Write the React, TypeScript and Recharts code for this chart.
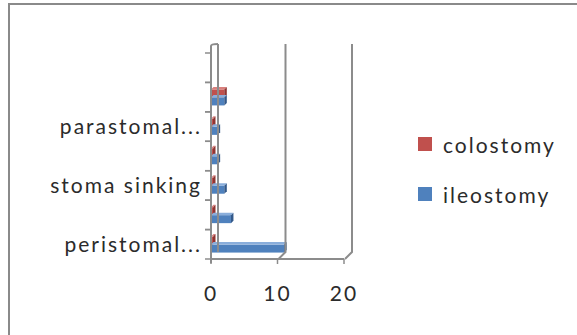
import { BarChart, Bar, XAxis, YAxis, ReferenceLine, Legend } from 'recharts'

// bottom-to-top, as in the source sheet; only every other label is printed
const categories = ['peristomal...', 'stoma retraction', 'stoma sinking', 'stoma prolapse', 'parastomal...', 'stoma stenosis', '']
const colostomy = [0, 0, 0, 0, 0, 2, null]
const ileostomy = [11, 3, 2, 1, 1, 2, null]
const xTicks = [0, 10, 20]

const data = categories.map((name, i) => ({ name, colostomy: colostomy[i], ileostomy: ileostomy[i] }))

const FONT = 'Lato, "Open Sans", sans-serif'
const FS = 21
const LS = 2
const TEXT = '#2b2b2b'
const GRID = '#8c8c8c'
const RED = '#c0504d'
const BLUE = '#4f81bd'

function CategoryTick(props: any) {
  const { x, y, payload } = props
  const half = payload.offset ?? 0
  const show = payload.index % 2 === 0
  return (
    <g>
      <line x1={x - 6} x2={x} y1={y + half} y2={y + half} stroke={GRID} strokeWidth={1.5} />
      <line x1={x - 6} x2={x} y1={y - half} y2={y - half} stroke={GRID} strokeWidth={1.5} />
      {show && (
        <text x={x - 9} y={y} dy="0.35em" textAnchor="end" fill={TEXT} fontSize={FS} fontFamily={FONT} letterSpacing={LS}>
          {payload.value}
        </text>
      )}
    </g>
  )
}

// back-wall line of the 3D plot, shifted up and right from the front value
function WallLine(props: any) {
  const { x1, y1, y2 } = props
  const top = Math.min(y1, y2)
  const bottom = Math.max(y1, y2)
  return (
    <path
      d={`M${x1 + 8},${top - 9} L${x1 + 8},${bottom - 7} L${x1 + 1},${bottom}`}
      fill="none"
      stroke={GRID}
      strokeWidth={2}
    />
  )
}

function ZeroWall(props: any) {
  const { x1, y1, y2 } = props
  const top = Math.min(y1, y2)
  const bottom = Math.max(y1, y2)
  return (
    <g fill="none" stroke={GRID} strokeWidth={2}>
      <path d={`M${x1 + 7},${top - 9} L${x1 + 7},${bottom - 7}`} />
      <path d={`M${x1},${bottom + 4} L${x1},${top - 7} Q${x1},${top - 9} ${x1 + 7},${top - 9}`} />
    </g>
  )
}

// flat bar with a thin top and side face for the 3D look
function Bar3D(props: any) {
  const { x, y, width, height, fill, dark, light } = props
  if (width == null || height == null || isNaN(width)) return null
  const d = 2.5
  return (
    <g>
      <rect x={x} y={y} width={width} height={height} fill={fill} />
      <polygon points={`${x},${y} ${x + d},${y - d} ${x + width + d},${y - d} ${x + width},${y}`} fill={light} />
      <polygon points={`${x + width},${y} ${x + width + d},${y - d} ${x + width + d},${y + height - d} ${x + width},${y + height}`} fill={dark} />
    </g>
  )
}

function LegendBox(props: any) {
  const { payload } = props
  return (
    <div style={{ fontFamily: FONT, fontSize: FS, color: TEXT }}>
      {(payload || []).map((p: any) => (
        <div key={p.value} style={{ display: 'flex', alignItems: 'center', height: 50 }}>
          <span style={{ width: 14, height: 14, background: p.color, marginRight: 11 }} />
          <span style={{ letterSpacing: LS }}>{p.value}</span>
        </div>
      ))}
    </div>
  )
}

export default function App() {
  return (
    <div style={{ position: 'absolute', left: 0, top: 0, width: 577, height: 335, overflow: 'hidden', background: '#fff' }}>
      <div style={{ position: 'absolute', left: 8, top: 3, width: 700, height: 500, border: '2px solid #8a8a8a', boxSizing: 'border-box' }} />
      <div style={{ position: 'absolute', left: 0, top: 0 }}>
        <BarChart
          width={577}
          height={335}
          data={data}
          layout="vertical"
          margin={{ top: 53, right: 233, bottom: 36, left: 0 }}
          barSize={8}
          barGap={0}
        >
          <XAxis
            type="number"
            domain={[0, 20]}
            ticks={xTicks}
            interval={0}
            height={40}
            axisLine={{ stroke: GRID, strokeWidth: 2 }}
            tickLine={{ stroke: GRID, strokeWidth: 1.5 }}
            tickSize={5}
            tickMargin={22}
            tick={{ fill: TEXT, fontSize: FS, fontFamily: FONT, letterSpacing: LS }}
          />
          <YAxis
            type="category"
            dataKey="name"
            reversed
            width={211}
            interval={0}
            axisLine={false}
            tickLine={false}
            tickSize={0}
            tickMargin={0}
            tick={<CategoryTick />}
          />
          <ReferenceLine x={10} shape={<WallLine />} />
          <ReferenceLine x={20} shape={<WallLine />} />
          <ReferenceLine x={0} shape={<ZeroWall />} />
          <Legend
            layout="horizontal"
            verticalAlign="middle"
            align="center"
            content={<LegendBox />}
            wrapperStyle={{ left: 418, top: 119, width: 155 }}
          />
          <Bar
            dataKey="colostomy"
            name="colostomy"
            fill={RED}
            isAnimationActive={false}
            minPointSize={(v: any) => (v == null ? 0 : 2)}
            shape={(p: any) => <Bar3D {...p} dark="#8f3431" light="#d9807d" />}
          />
          <Bar
            dataKey="ileostomy"
            name="ileostomy"
            fill={BLUE}
            isAnimationActive={false}
            shape={(p: any) => <Bar3D {...p} dark="#33598a" light="#8aaedb" />}
          />
        </BarChart>
      </div>
    </div>
  )
}
